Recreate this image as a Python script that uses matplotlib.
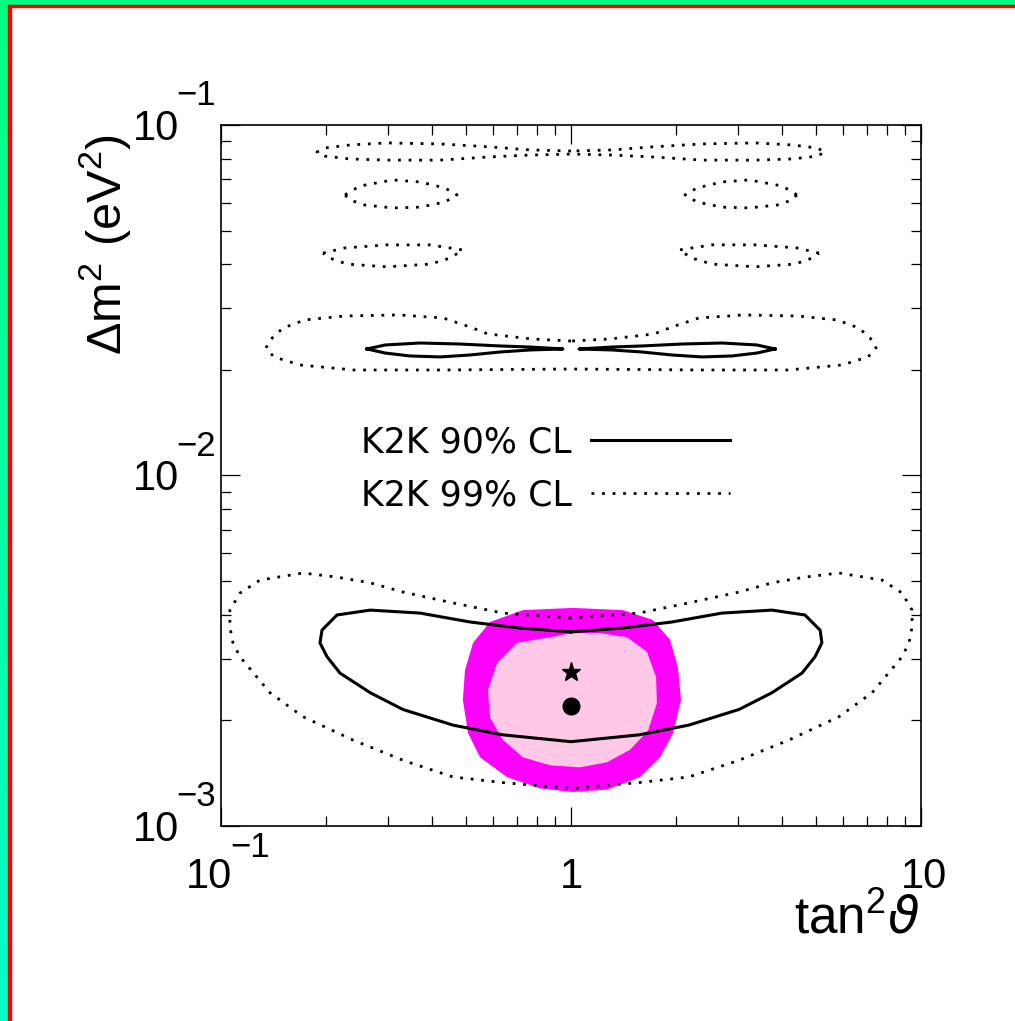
"""K2K allowed regions in the (tan^2 theta, dm^2) plane, 90% and 99% CL."""
import numpy as np
import matplotlib
matplotlib.use("Agg")
import matplotlib.pyplot as plt
from matplotlib.patches import Rectangle

plt.rcParams["font.family"] = ["Liberation Sans", "DejaVu Sans"]
plt.rcParams["mathtext.fontset"] = "custom"
plt.rcParams["mathtext.rm"] = "Liberation Sans"

# ---- contour data (tan^2 theta, dm^2 in eV^2) ----
# 99% CL, low dm^2 region
c99_low_x = [1.0, 0.639, 0.460, 0.331, 0.267, 0.2145, 0.1715, 0.1292, 0.1133, 0.106,
             0.106, 0.1082, 0.1133, 0.138, 0.1715, 0.238, 0.331, 0.460, 0.639, 1.0,
             1.565, 2.17, 3.02, 4.2, 5.83, 7.25, 8.83, 9.24, 9.43, 9.43,
             8.83, 7.74, 5.83, 4.66, 3.75, 3.02, 2.17, 1.565, 1.0]
c99_low_y = [0.00392, 0.00405, 0.00433, 0.00465, 0.00494, 0.00513, 0.00527, 0.00503, 0.00462, 0.00413,
             0.00370, 0.00333, 0.00304, 0.00240, 0.00205, 0.00176, 0.00154, 0.00138, 0.00133, 0.00128,
             0.00133, 0.00138, 0.00154, 0.00176, 0.00205, 0.00240, 0.00304, 0.00333, 0.00370, 0.00413,
             0.00462, 0.00503, 0.00527, 0.00513, 0.00494, 0.00465, 0.00433, 0.00405, 0.00392]

# 90% CL, low dm^2 region
c90_low_x = [1.0, 0.715, 0.5145, 0.3703, 0.267, 0.2145, 0.1943, 0.1918, 0.2009, 0.2188,
             0.267, 0.331, 0.460, 0.639, 1.0, 1.565, 2.17, 3.02, 3.75, 4.57,
             4.98, 5.21, 5.15, 4.66, 3.75, 2.70, 1.944, 1.40, 1.0]
c90_low_y = [0.00358, 0.00367, 0.00382, 0.00405, 0.00413, 0.00400, 0.00362, 0.00333, 0.00304, 0.00273,
             0.00240, 0.00215, 0.00194, 0.00182, 0.00174, 0.00182, 0.00194, 0.00215, 0.00240, 0.00273,
             0.00304, 0.00333, 0.00362, 0.00400, 0.00413, 0.00405, 0.00382, 0.00367, 0.00358]

# 99% CL, region around 2.3e-2
c99_mid_x = [1.0, 0.774, 0.579, 0.5145, 0.431, 0.3228, 0.226, 0.1738, 0.1503, 0.138,
             0.1344, 0.1417, 0.1681, 0.2399, 0.431, 1.0, 2.32, 4.17, 5.95, 7.06,
             7.44, 7.25, 6.65, 5.75, 4.42, 3.098, 2.32, 1.944, 1.727, 1.292, 1.0]
c99_mid_y = [0.02419, 0.02452, 0.02534, 0.02653, 0.02815, 0.02871, 0.02852, 0.02779, 0.02635, 0.02435,
             0.02311, 0.02179, 0.02067, 0.02000, 0.02000, 0.02013, 0.02000, 0.02000, 0.02067, 0.02179,
             0.02311, 0.02435, 0.02635, 0.02779, 0.02852, 0.02871, 0.02815, 0.02653, 0.02534, 0.02452, 0.02419]

# 90% CL, two thin islands around 2.3e-2
c90_midL_x = [0.2613, 0.2942, 0.3703, 0.4817, 0.627, 0.7636, 0.9487, 0.7636, 0.627, 0.5145,
              0.4223, 0.3467, 0.2942, 0.2613]
c90_midL_y = [0.02296, 0.02357, 0.02388, 0.02372, 0.02342, 0.02326, 0.02296, 0.02281, 0.02251, 0.02207,
              0.02179, 0.02193, 0.02236, 0.02296]
c90_midR_x = [3.827, 3.40, 2.70, 2.076, 1.595, 1.31, 1.054, 1.31, 1.595, 1.944,
              2.368, 2.884, 3.40, 3.827]
c90_midR_y = [0.02296, 0.02357, 0.02388, 0.02372, 0.02342, 0.02326, 0.02296, 0.02281, 0.02251, 0.02207,
              0.02179, 0.02193, 0.02236, 0.02296]

# 99% CL, islands at high dm^2
c99_top_x = [1.0, 0.7636, 0.587, 0.4223, 0.298, 0.2336, 0.1982, 0.188, 0.1982, 0.2336,
             0.298, 0.4223, 0.587, 0.7636, 1.0, 1.31, 1.704, 2.368, 3.356, 4.28,
             5.045, 5.32, 5.045, 4.28, 3.356, 2.368, 1.704, 1.31, 1.0]
c99_top_y = [0.0843, 0.0849, 0.0866, 0.0883, 0.0889, 0.0877, 0.0860, 0.0837, 0.0815, 0.0800,
             0.0794, 0.0794, 0.0811, 0.0821, 0.0826, 0.0821, 0.0811, 0.0794, 0.0794, 0.0800,
             0.0815, 0.0837, 0.0860, 0.0877, 0.0889, 0.0883, 0.0866, 0.0849, 0.0843]

c99_r2L_x = [0.226, 0.2495, 0.31, 0.3703, 0.4365, 0.4724, 0.4365, 0.3703, 0.31, 0.2578, 0.2336, 0.226]
c99_r2R_x = [4.42, 4.01, 3.226, 2.70, 2.29, 2.117, 2.29, 2.70, 3.226, 3.88, 4.28, 4.42]
c99_r2_y = [0.0632, 0.0670, 0.0697, 0.0688, 0.0661, 0.0632, 0.0603, 0.0583, 0.0580, 0.0591, 0.0611, 0.0632]

c99_r3L_x = [0.1956, 0.226, 0.298, 0.3957, 0.491, 0.451, 0.3957, 0.298, 0.2291, 0.2048, 0.1956]
c99_r3R_x = [5.11, 4.42, 3.356, 2.527, 2.037, 2.217, 2.527, 3.356, 4.365, 4.88, 5.11]
c99_r3_y = [0.0431, 0.0446, 0.0455, 0.0455, 0.0440, 0.0417, 0.0401, 0.0394, 0.0401, 0.0417, 0.0431]

# other experiment: outer (magenta) and inner (light pink) allowed regions
outer_x = [1.013, 0.729, 0.587, 0.525, 0.498, 0.491, 0.508, 0.55, 0.656, 0.815,
           1.013, 1.267, 1.574, 1.796, 1.956, 2.062, 2.02, 1.918, 1.714, 1.408]
outer_y = [0.00419, 0.00413, 0.00382, 0.00333, 0.00279, 0.00229, 0.00184, 0.00157, 0.00138, 0.00128,
           0.00125, 0.00127, 0.00138, 0.00157, 0.00184, 0.00229, 0.00284, 0.00340, 0.00387, 0.00413]
inner_x = [1.013, 0.701, 0.615, 0.579, 0.587, 0.639, 0.729, 0.871, 1.061, 1.267,
           1.474, 1.66, 1.76, 1.75, 1.648, 1.445, 1.21]
inner_y = [0.00355, 0.00333, 0.00292, 0.00244, 0.00204, 0.00176, 0.00157, 0.00149, 0.00147, 0.00152,
           0.00165, 0.00187, 0.00224, 0.00266, 0.00314, 0.00346, 0.00355]

best_fit_star = (1.0, 0.00275)
best_fit_dot = (1.0, 0.00220)

# tick labels, ROOT style: mantissa and exponent drawn as separate texts
ytick_vals = [1e-1, 1e-2, 1e-3]
ytick_base = ["10", "10", "10"]
ytick_exp = ["\u22121", "\u22122", "\u22123"]
xtick_vals = [0.1, 1.0, 10.0]
xtick_base = ["10", "1", "10"]
xtick_exp = ["\u22121", "", ""]

W, H = 1015, 1021
fig = plt.figure(figsize=(W / 100, H / 100), dpi=100)
ax = fig.add_axes([221 / W, 195 / H, 700 / W, 701 / H])

ax.fill(outer_x, outer_y, color="#ff00ff", lw=0, zorder=1)
ax.fill(inner_x, inner_y, color="#ffc8e6", lw=0, zorder=2)

DOT = (0, (1, 2.8))
SOLID_LW, DOT_LW = 2.2, 2.0
l90, = ax.plot(c90_low_x, c90_low_y, color="k", lw=SOLID_LW, zorder=4, label="K2K 90% CL")
l99, = ax.plot(c99_low_x, c99_low_y, color="k", lw=DOT_LW, ls=DOT, dash_capstyle="butt",
               zorder=4, label="K2K 99% CL")
for xs, ys in [(c99_mid_x, c99_mid_y), (c99_top_x, c99_top_y),
               (c99_r2L_x, c99_r2_y), (c99_r2R_x, c99_r2_y),
               (c99_r3L_x, c99_r3_y), (c99_r3R_x, c99_r3_y)]:
    ax.plot(xs, ys, color="k", lw=DOT_LW, ls=DOT, dash_capstyle="butt", zorder=4)
for xs, ys in [(c90_midL_x, c90_midL_y), (c90_midR_x, c90_midR_y)]:
    ax.plot(xs, ys, color="k", lw=SOLID_LW, zorder=4)

ax.plot(*best_fit_star, marker="*", ms=14, color="k", zorder=5)
ax.plot(*best_fit_dot, marker="o", ms=12, color="k", zorder=5)

ax.set_xscale("log")
ax.set_yscale("log")
ax.set_xlim(0.1, 10)
ax.set_ylim(1e-3, 1e-1)
for s in ax.spines.values():
    s.set_linewidth(1.2)
ax.tick_params(which="both", direction="in", top=True, right=True,
               labelbottom=False, labelleft=False, width=0.9)
ax.tick_params(which="major", length=14)
ax.tick_params(which="minor", length=7)

px = 0.72  # points per pixel
for v, b, e in zip(ytick_vals, ytick_base, ytick_exp):
    ax.annotate(b, xy=(0, v), xycoords=("axes fraction", "data"),
                xytext=(-42 * px, -15 * px), textcoords="offset points",
                ha="right", va="baseline", fontsize=30, annotation_clip=False)
    ax.annotate(e, xy=(0, v), xycoords=("axes fraction", "data"),
                xytext=(-45 * px, 20 * px), textcoords="offset points",
                ha="left", va="baseline", fontsize=25, annotation_clip=False)
for v, b, e in zip(xtick_vals, xtick_base, xtick_exp):
    if e:
        ax.annotate(b, xy=(v, 0), xycoords=("data", "axes fraction"),
                    xytext=(11 * px, -62 * px), textcoords="offset points",
                    ha="right", va="baseline", fontsize=30, annotation_clip=False)
        ax.annotate(e, xy=(v, 0), xycoords=("data", "axes fraction"),
                    xytext=(9 * px, -31 * px), textcoords="offset points",
                    ha="left", va="baseline", fontsize=25, annotation_clip=False)
    else:
        ax.annotate(b, xy=(v, 0), xycoords=("data", "axes fraction"),
                    xytext=(3 * px if v > 1 else 0, -62 * px), textcoords="offset points",
                    ha="center", va="baseline", fontsize=30, annotation_clip=False)

fig.text(920 / W, 1 - 933 / H, r"tan$^{\mathregular{2}}\vartheta$", ha="right",
         va="baseline", fontsize=37)
fig.text(105 / W, 1 - 245 / H, r"$\mathregular{\Delta m^2\ (eV^2)}$", rotation=90,
         ha="center", va="center", fontsize=35)

ax.legend(handles=[l90, l99], loc="upper left", bbox_to_anchor=(0.2, 0.572),
          frameon=False, markerfirst=False, prop={"family": "DejaVu Sans", "size": 25},
          handlelength=4.0, handletextpad=0.55, labelspacing=0.55, borderpad=0,
          borderaxespad=0)

# frame of the original canvas: green/cyan outer strip, thin red inner line
gax = fig.add_axes([0, 0, 8 / W, 1])
grad = np.linspace(0, 1, 64)[:, None, None]
top_c = np.array([0.0, 1.0, 0.5])
bot_c = np.array([0.0, 1.0, 0.78])
gax.imshow(top_c * (1 - grad) + bot_c * grad, aspect="auto", interpolation="bilinear")
gax.axis("off")
fig.patches.append(Rectangle((0, 1 - 5 / H), 1, 5 / H, transform=fig.transFigure,
                             color="#00ff80", zorder=10))
fig.patches.append(Rectangle((8 / W, 1 - 7 / H), 1, 2 / H, transform=fig.transFigure,
                             color="#ff0000", zorder=10))
fig.patches.append(Rectangle((8 / W, 0), 3 / W, 1 - 5 / H, transform=fig.transFigure,
                             color="#ff0000", zorder=10))

fig.savefig("out.png", dpi=100)
